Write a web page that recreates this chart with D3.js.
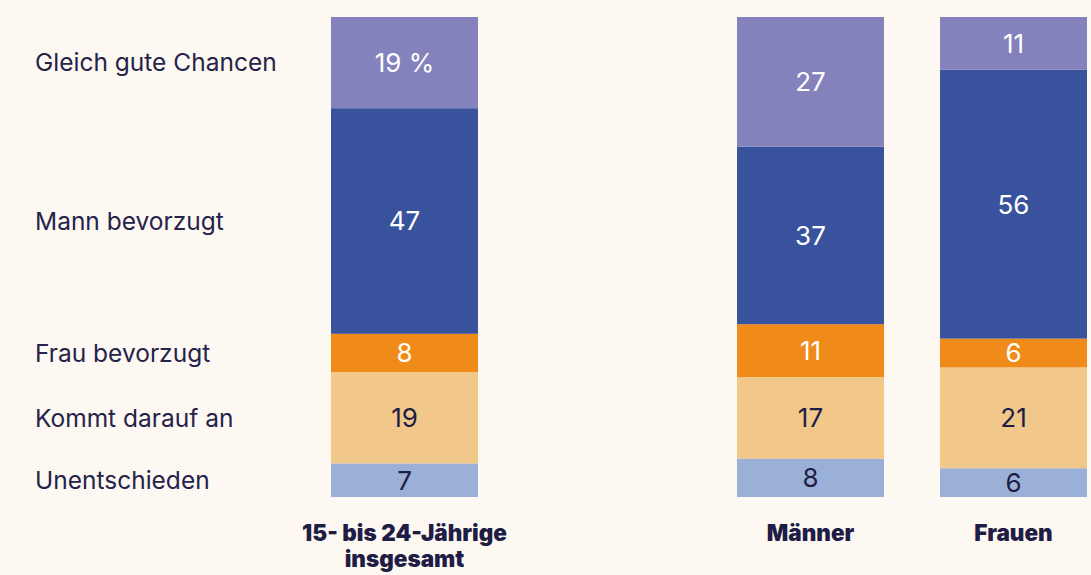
<!DOCTYPE html>
<html>
<head>
<meta charset="utf-8">
<script src="https://cdn.jsdelivr.net/npm/d3@7"></script>
<style>
  body { margin: 0; background: #fdf8f1; }
  svg { display: block; font-family: Inter, "Noto Sans", sans-serif; }
</style>
</head>
<body>
<div id="chart"></div>
<script>
const groups = ["insgesamt", "gap", "Männer", "Frauen"];
const groupLabels = { insgesamt: ["15- bis 24-Jährige", "insgesamt"], Männer: ["Männer"], Frauen: ["Frauen"] };
const answers = ["Unentschieden", "Kommt darauf an", "Frau bevorzugt", "Mann bevorzugt", "Gleich gute Chancen"];
const insgesamt = [7, 19, 8, 47, 19];
const maenner = [8, 17, 11, 37, 27];
const frauen = [6, 21, 6, 56, 11];
const colors = ["#9bb0d6", "#f1c78a", "#f08a19", "#38529d", "#8482bd"];
const textColors = ["#1f1d45", "#1f1d45", "#fff", "#fff", "#fff"];

const data = [
  { group: "insgesamt", values: insgesamt },
  { group: "Männer", values: maenner },
  { group: "Frauen", values: frauen }
];

const width = 1091, height = 575;
const svg = d3.select("#chart").append("svg")
  .attr("width", width)
  .attr("height", height);

const x = d3.scaleBand().domain(groups).range([331, 1087]).paddingInner(0.276).paddingOuter(0);
const y = d3.scaleLinear().domain([0, 100]).range([497, 17]);

const stack = d3.stack().keys(d3.range(answers.length)).value((d, k) => d.values[k]);
const series = stack(data);

series.forEach((s, i) => {
  const g = svg.append("g");
  g.selectAll("rect")
    .data(s)
    .enter().append("rect")
    .attr("x", d => x(d.data.group))
    .attr("width", x.bandwidth())
    .attr("y", d => y(d[1]))
    .attr("height", d => y(d[0]) - y(d[1]))
    .attr("fill", colors[i]);

  g.selectAll("text")
    .data(s)
    .enter().append("text")
    .attr("x", d => x(d.data.group) + x.bandwidth() / 2)
    .attr("y", d => (y(d[0]) + y(d[1])) / 2)
    .attr("dy", "0.36em")
    .attr("text-anchor", "middle")
    .attr("fill", textColors[i])
    .style("font-size", "26px")
    .text(d => (d.data.group === "insgesamt" && i === answers.length - 1) ? d.data.values[i] + " %" : d.data.values[i]);

  // row labels at the left, aligned with the first bar
  const first = s[0];
  svg.append("text")
    .attr("x", 35)
    .attr("y", (y(first[0]) + y(first[1])) / 2)
    .attr("dy", "0.36em")
    .attr("fill", "#25234a")
    .style("font-size", "24.5px")
    .text(answers[i]);
});

data.forEach(d => {
  const t = svg.append("text")
    .attr("x", x(d.group) + x.bandwidth() / 2)
    .attr("y", 533)
    .attr("text-anchor", "middle")
    .attr("fill", "#1f1d45")
    .style("font-size", "22.5px")
    .style("font-weight", "900");
  groupLabels[d.group].forEach((line, j) => {
    t.append("tspan")
      .attr("x", x(d.group) + x.bandwidth() / 2)
      .attr("dy", j === 0 ? "0.36em" : "1.16em")
      .text(line);
  });
});
</script>
</body>
</html>
